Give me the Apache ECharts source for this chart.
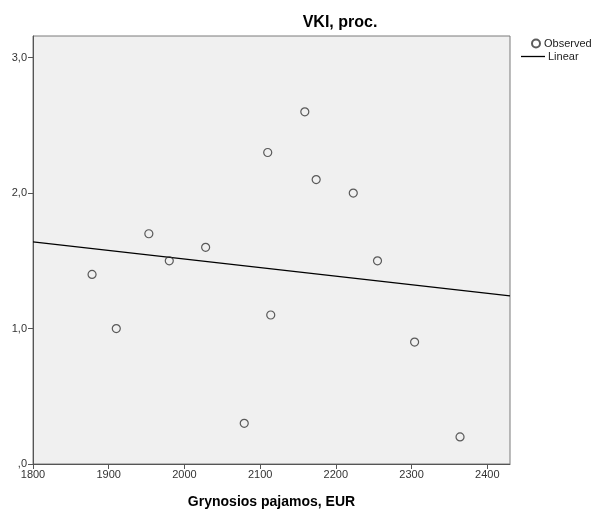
<!DOCTYPE html>
<html>
<head>
<meta charset="utf-8">
<script src="https://cdn.jsdelivr.net/npm/echarts@6/dist/echarts.min.js"></script>
<style>
html,body{margin:0;padding:0;background:#fff;}
#chart{width:601px;height:513px;}
</style>
</head>
<body>
<div id="chart"></div>
<script>
const titleText = 'VKI, proc.';
const xAxisName = 'Grynosios pajamos, EUR';
const seriesNames = ['Observed', 'Linear'];
const obsX = [1878, 1910, 1953, 1980, 2028, 2079, 2110, 2114, 2159, 2174, 2223, 2255, 2304, 2364];
const obsY = [1.4, 1.0, 1.7, 1.5, 1.6, 0.3, 2.3, 1.1, 2.6, 2.1, 2.0, 1.5, 0.9, 0.2];
const linearX = [1800, 2430];
const linearY = [1.64, 1.242];
const xTicks = [1800, 1900, 2000, 2100, 2200, 2300, 2400];
const xTickLabels = ['1800', '1900', '2000', '2100', '2200', '2300', '2400'];
const yTicks = [0, 1, 2, 3];
const yTickLabels = [',0', '1,0', '2,0', '3,0'];

const FONT = '"Liberation Sans", Arial, sans-serif';
const chart = echarts.init(document.getElementById('chart'), null, {renderer: 'canvas'});

const option = {
  animation: false,
  backgroundColor: '#ffffff',
  title: {
    text: titleText,
    left: 340,
    top: 15,
    padding: 0,
    textAlign: 'center',
    textStyle: {fontFamily: FONT, fontSize: 16, fontWeight: 'bold', color: '#000'}
  },
  legend: [
    {
      data: [seriesNames[0]],
      left: 531, top: 38, padding: 0,
      itemWidth: 8, itemHeight: 8,
      textStyle: {fontFamily: FONT, fontSize: 11, color: '#222', padding: [0, 0, 0, -1]}
    },
    {
      data: [{name: seriesNames[1], icon: 'rect'}],
      left: 521, top: 51, padding: 0,
      itemWidth: 24, itemHeight: 1.3,
      itemStyle: {color: '#000', borderWidth: 0},
      textStyle: {fontFamily: FONT, fontSize: 11, color: '#222', padding: [0, 0, 0, -2]}
    }
  ],
  grid: {
    left: 33, right: 91, top: 36, bottom: 49,
    outerBoundsMode: 'none',
    containLabel: false,
    show: true,
    backgroundColor: '#f0f0f0',
    borderColor: '#7a7a7a',
    borderWidth: 1
  },
  xAxis: {
    type: 'value',
    min: 1800, max: 2430, interval: 100,
    name: xAxisName,
    nameLocation: 'middle',
    nameGap: 31,
    nameTextStyle: {fontFamily: FONT, fontSize: 14, fontWeight: 'bold', color: '#000'},
    axisLine: {show: true, lineStyle: {color: '#555', width: 1}},
    axisTick: {show: true, length: 5, customValues: xTicks, lineStyle: {color: '#555'}},
    axisLabel: {
      customValues: xTicks,
      margin: 5,
      fontFamily: FONT, fontSize: 11, color: '#333',
      formatter: v => { const i = xTicks.indexOf(v); return i >= 0 ? xTickLabels[i] : ''; }
    },
    splitLine: {show: false}
  },
  yAxis: {
    type: 'value',
    min: 0, max: 3.16, interval: 1,
    axisLine: {show: true, lineStyle: {color: '#555', width: 1}},
    axisTick: {show: true, length: 5, customValues: yTicks, lineStyle: {color: '#555'}},
    axisLabel: {
      customValues: yTicks,
      margin: 6,
      fontFamily: FONT, fontSize: 11, color: '#333',
      formatter: v => { const i = yTicks.indexOf(v); return i >= 0 ? yTickLabels[i] : ''; }
    },
    splitLine: {show: false}
  },
  series: [
    {
      name: seriesNames[0],
      type: 'scatter',
      symbol: 'circle',
      symbolSize: 8,
      itemStyle: {color: 'rgba(0,0,0,0)', borderColor: '#333', borderWidth: 1.2},
      data: obsX.map((x, i) => [x, obsY[i]]),
      z: 3
    },
    {
      name: seriesNames[1],
      type: 'line',
      symbol: 'none',
      showSymbol: false,
      lineStyle: {color: '#000', width: 1.3},
      itemStyle: {color: '#000'},
      data: linearX.map((x, i) => [x, linearY[i]]),
      z: 2
    }
  ]
};
chart.setOption(option);
</script>
</body>
</html>
